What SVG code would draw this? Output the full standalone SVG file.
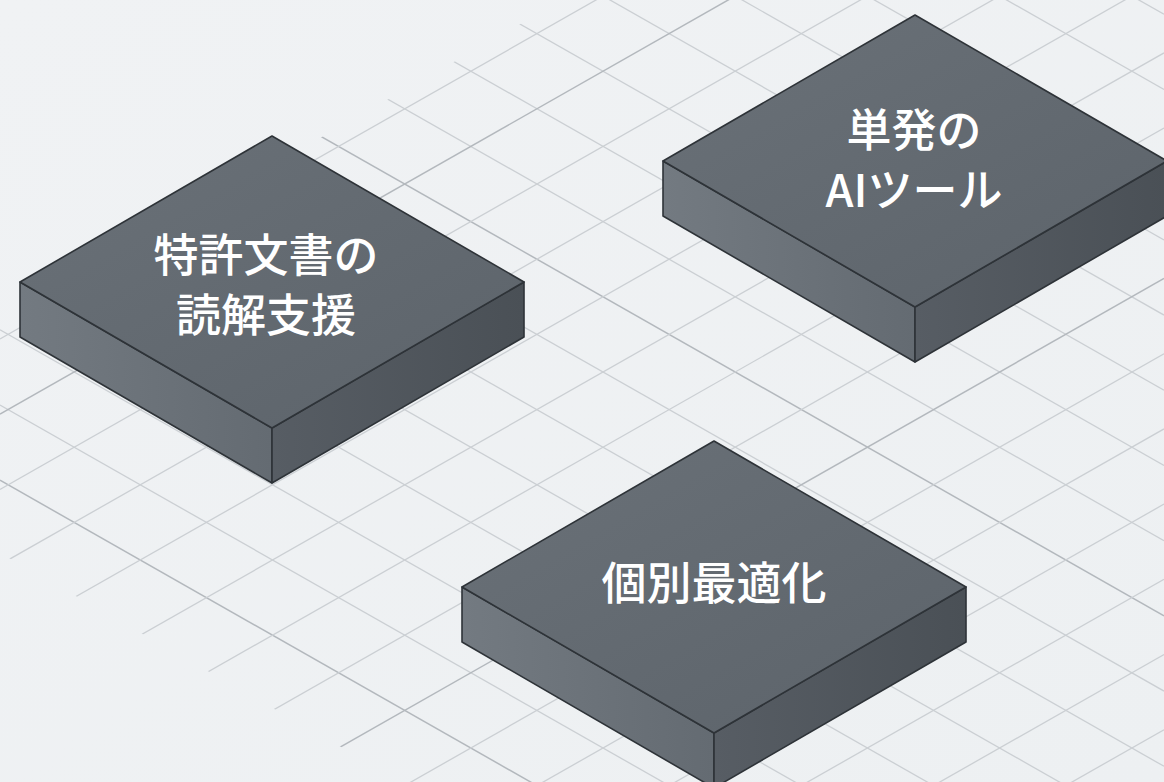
<svg xmlns="http://www.w3.org/2000/svg" xmlns:xlink="http://www.w3.org/1999/xlink" width="1164" height="782" viewBox="0 0 1164 782">
  <style>
    .g { stroke: #cbcfd3; stroke-width: 1.3; fill: none; }
    .gm { stroke: #b3b8bd; stroke-width: 1.5; fill: none; }
    .edge { stroke: #2e3338; stroke-width: 1.6; stroke-linejoin: round; }
    .lbl { font-family: "Noto Sans CJK JP", "Noto Sans", sans-serif; font-size: 45px; font-weight: 500; fill: #ffffff; text-anchor: middle; }
  </style>
  <defs>
    <linearGradient id="bg" x1="0" y1="0" x2="1" y2="1">
      <stop offset="0" stop-color="#f0f2f4"/>
      <stop offset="1" stop-color="#edf0f2"/>
    </linearGradient>
    <linearGradient id="topG" x1="0" y1="0" x2="1" y2="1">
      <stop offset="0" stop-color="#6a7178"/>
      <stop offset="1" stop-color="#5c636a"/>
    </linearGradient>
    <linearGradient id="leftG" x1="0" y1="0" x2="1" y2="0">
      <stop offset="0" stop-color="#737a81"/>
      <stop offset="1" stop-color="#646b72"/>
    </linearGradient>
    <linearGradient id="rightG" x1="0" y1="0" x2="1" y2="0">
      <stop offset="0" stop-color="#575d64"/>
      <stop offset="1" stop-color="#4a5056"/>
    </linearGradient>
    <clipPath id="gridClip">
      <polygon points="0,320 562.6,0 1164,0 1164,782 402.6,782 0,553"/>
    </clipPath>
    <g id="slab">
      <path d="M-252,146 L0,292 L0,347 L-252,201 Z" fill="url(#leftG)" class="edge"/>
      <path d="M0,292 L252,146 L252,201 L0,347 Z" fill="url(#rightG)" class="edge"/>
      <path d="M0,0 L252,146 L0,292 L-252,146 Z" fill="url(#topG)" class="edge"/>
    </g>
  </defs>

  <rect width="1164" height="782" fill="url(#bg)"/>

  <g id="grid" clip-path="url(#gridClip)">
    <line class="g" x1="0" y1="-647.8" x2="1164" y2="14.3"/>
    <line class="g" x1="0" y1="-572.6" x2="1164" y2="89.5"/>
    <line class="g" x1="0" y1="-497.4" x2="1164" y2="164.7"/>
    <line class="g" x1="0" y1="-422.2" x2="1164" y2="239.9"/>
    <line class="g" x1="0" y1="-347" x2="1164" y2="315.1"/>
    <line class="g" x1="0" y1="-271.8" x2="1164" y2="390.3"/>
    <line class="g" x1="0" y1="-196.6" x2="1164" y2="465.5"/>
    <line class="g" x1="0" y1="-121.4" x2="1164" y2="540.7"/>
    <line class="gm" x1="0" y1="-46.2" x2="1164" y2="615.9"/>
    <line class="g" x1="0" y1="29" x2="1164" y2="691.1"/>
    <line class="g" x1="0" y1="104.2" x2="1164" y2="766.3"/>
    <line class="g" x1="0" y1="179.4" x2="1164" y2="841.5"/>
    <line class="g" x1="0" y1="254.6" x2="1164" y2="916.7"/>
    <line class="g" x1="0" y1="329.8" x2="1164" y2="991.9"/>
    <line class="g" x1="0" y1="405" x2="1164" y2="1067.1"/>
    <line class="gm" x1="0" y1="480.2" x2="1164" y2="1142.3"/>

    <line class="g" x1="0" y1="339" x2="1164" y2="-323.1"/>
    <line class="gm" x1="0" y1="414.2" x2="1164" y2="-247.9"/>
    <line class="g" x1="0" y1="489.4" x2="1164" y2="-172.7"/>
    <line class="g" x1="0" y1="564.6" x2="1164" y2="-97.5"/>
    <line class="g" x1="0" y1="639.8" x2="1164" y2="-22.3"/>
    <line class="g" x1="0" y1="715" x2="1164" y2="52.9"/>
    <line class="g" x1="0" y1="790.2" x2="1164" y2="128.1"/>
    <line class="g" x1="0" y1="865.4" x2="1164" y2="203.3"/>
    <line class="gm" x1="0" y1="940.6" x2="1164" y2="278.5"/>
    <line class="g" x1="0" y1="1015.8" x2="1164" y2="353.7"/>
    <line class="g" x1="0" y1="1091" x2="1164" y2="428.9"/>
    <line class="g" x1="0" y1="1166.2" x2="1164" y2="504.1"/>
    <line class="g" x1="0" y1="1241.4" x2="1164" y2="579.3"/>
    <line class="g" x1="0" y1="1316.6" x2="1164" y2="654.5"/>
    <line class="g" x1="0" y1="1391.8" x2="1164" y2="729.7"/>
  </g>

  <g id="connectors"></g>

  <g id="node-patent" transform="translate(272,136)">
    <use href="#slab"/>
    <text class="lbl" x="-6" y="136">特許文書の</text>
    <text class="lbl" x="-6" y="196">読解支援</text>
  </g>

  <g id="node-ai-tool" transform="translate(915,15)">
    <use href="#slab"/>
    <text class="lbl" x="-1" y="132">単発の</text>
    <text class="lbl" x="-1" y="192">AIツール</text>
  </g>

  <g id="node-optimize" transform="translate(714,441)">
    <use href="#slab"/>
    <text class="lbl" x="0" y="159">個別最適化</text>
  </g>
</svg>
